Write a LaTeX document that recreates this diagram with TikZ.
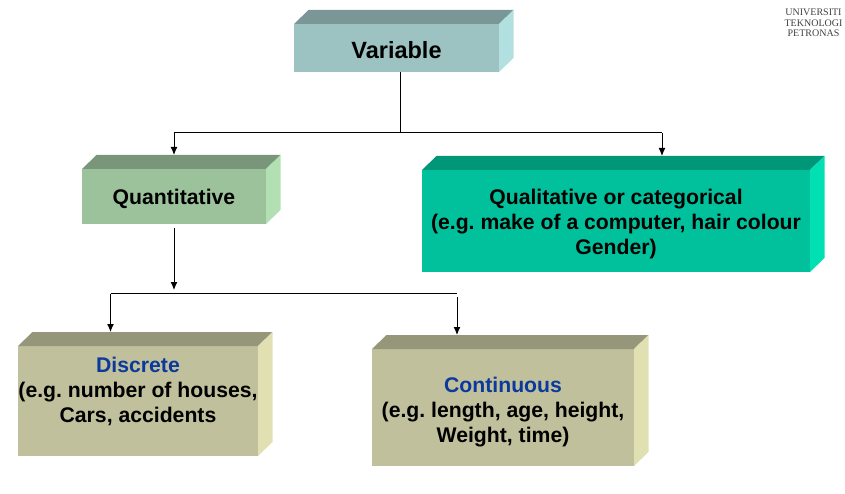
\documentclass[tikz,border=0pt]{standalone}
\usepackage{fontspec}
\setmainfont{Liberation Sans}
\newfontfamily\logofont{Liberation Serif}
\usetikzlibrary{arrows.meta}
\frenchspacing

\definecolor{tealfront}{HTML}{9CC2C2}
\definecolor{tealtop}{HTML}{7A9696}
\definecolor{tealside}{HTML}{B2E0E0}
\definecolor{greenfront}{HTML}{9CC29C}
\definecolor{greentop}{HTML}{7A967A}
\definecolor{greenside}{HTML}{B2E0B2}
\definecolor{jadefront}{HTML}{00C19C}
\definecolor{jadetop}{HTML}{009678}
\definecolor{jadeside}{HTML}{00E0B2}
\definecolor{olivefront}{HTML}{C0C09C}
\definecolor{olivetop}{HTML}{96967A}
\definecolor{oliveside}{HTML}{E0E0B2}
\definecolor{headblue}{HTML}{0B3A9C}

\tikzset{
  block/.style={fill=#1front, inner sep=0pt, outer sep=0pt},
  blocktext/.style={align=center, inner sep=0pt, font=\fontsize{21.2}{25}\selectfont\bfseries\frenchspacing},
  link/.style={line width=1pt, black},
  arrowlink/.style={link, -{Latex[length=8pt, width=7pt]}}
}

\begin{document}
\begin{tikzpicture}[x=1pt, y=-1pt]
\useasboundingbox (0,0) rectangle (845,494);

\node[block=teal, minimum width=205pt, minimum height=48pt,
      label={[blocktext, font=\fontsize{23.5}{28}\selectfont\bfseries, yshift=-2pt]center:Variable}]
  (variable) at (396.5,48) {};
\node[block=green, minimum width=184pt, minimum height=55pt,
      label={[blocktext, yshift=-2pt]center:Quantitative}]
  (quantitative) at (174,196.5) {};
\node[block=jade, minimum width=388pt, minimum height=102pt,
      label={[blocktext, yshift=-3pt]center:{Qualitative or categorical\\(e.g. make of a computer, hair colour\\Gender)}}]
  (qualitative) at (616,221) {};
\node[block=olive, minimum width=240pt, minimum height=110pt,
      label={[blocktext, yshift=9.5pt]center:{\textcolor{headblue}{Discrete}\\(e.g. number of houses,\\Cars, accidents}}]
  (discrete) at (138,401) {};
\node[block=olive, minimum width=262pt, minimum height=117pt,
      label={[blocktext, yshift=-4.5pt]center:{\textcolor{headblue}{Continuous}\\(e.g. length, age, height,\\Weight, time)}}]
  (continuous) at (503,407.5) {};

% top and right faces
\foreach \name/\tone in {variable/teal, quantitative/green, qualitative/jade, discrete/olive, continuous/olive} {
  \coordinate (\name-back) at ([shift={(14.5pt,14pt)}]\name.north west);
  \fill[\tone top] (\name.north west) -- (\name-back) -- ([shift={(14.5pt,14pt)}]\name.north east) -- (\name.north east) -- cycle;
  \fill[\tone side] (\name.north east) -- ([shift={(14.5pt,14pt)}]\name.north east) -- ([shift={(14.5pt,14pt)}]\name.south east) -- (\name.south east) -- cycle;
}

\node[font=\fontsize{10}{10.5}\selectfont\logofont, text=black!75, align=center, inner sep=0pt]
  (logo) at (813.5,23) {UNIVERSITI\\TEKNOLOGI\\PETRONAS};

\coordinate (split1) at (400.5,133);
\coordinate (left1) at (174,133);
\coordinate (right1) at (662,133);
\coordinate (split2) at (174,290);
\coordinate (left2) at (110.5,293.5);
\coordinate (right2) at (457,293.5);

\draw[link] (split1 |- variable.south) -- (split1);
\draw[link] (left1) -- (right1);
\draw[arrowlink] (left1) -- (left1 |- quantitative-back);
\draw[arrowlink] (right1) -- (right1 |- qualitative-back);
\draw[arrowlink, shorten <=4pt] (quantitative.south) -- (split2);
\draw[link] (left2) -- (right2);
\draw[arrowlink] (left2) -- (left2 |- discrete-back);
\draw[arrowlink, shorten <=3.5pt] (right2) -- (right2 |- continuous-back);
\end{tikzpicture}
\end{document}
